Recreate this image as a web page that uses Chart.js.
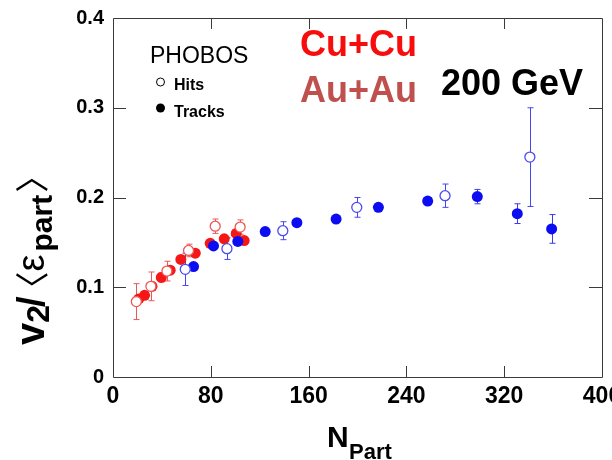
<!DOCTYPE html>
<html>
<head>
<meta charset="utf-8">
<script src="https://cdn.jsdelivr.net/npm/chart.js@4/dist/chart.umd.min.js"></script>
<style>
  html, body { margin: 0; padding: 0; background: #fff; }
  #wrap { width: 612px; height: 460px; }
</style>
</head>
<body>
<div id="wrap"><canvas id="c" width="612" height="460"></canvas></div>
<script>
// Axis ticks
const xTicks = [0, 80, 160, 240, 320, 400];
const yTicks = [0, 0.1, 0.2, 0.3, 0.4];

// Cu+Cu, hit-based (open) and track-based (filled)
const nPartCuHits = [19.1, 31.0, 44.1, 61.8, 83.6, 104.0];
const v2CuHits    = [0.084, 0.101, 0.118, 0.141, 0.168, 0.167];
const errCuHits   = [0.020, 0.016, 0.011, 0.007, 0.008, 0.008];

const nPartCuTracks = [21.0, 25.8, 31.9, 39.5, 46.8, 55.5, 67.3, 79.5, 91.0, 100.8, 107.3];
const v2CuTracks    = [0.087, 0.091, 0.101, 0.111, 0.119, 0.131, 0.138, 0.149, 0.154, 0.160, 0.152];
const errCuTracks   = [0.004, 0.004, 0.004, 0.005, 0.004, 0.004, 0.004, 0.003, 0.003, 0.003, 0.003];

// Au+Au, hit-based (open) and track-based (filled)
const nPartAuHits = [59.1, 93.2, 138.9, 199.4, 271.6, 341.0];
const v2AuHits    = [0.120, 0.143, 0.163, 0.189, 0.202, 0.245];
const errAuHits   = [0.018, 0.012, 0.010, 0.011, 0.013, 0.055];

const nPartAuTracks = [65.9, 82.2, 102.1, 124.5, 150.4, 182.5, 217.1, 257.4, 298.0, 330.7, 358.8];
const v2AuTracks    = [0.123, 0.146, 0.151, 0.162, 0.172, 0.176, 0.189, 0.196, 0.201, 0.182, 0.165];
const errAuTracks   = [0.003, 0.003, 0.003, 0.003, 0.003, 0.003, 0.003, 0.004, 0.008, 0.011, 0.016];

const FONT = '"Liberation Sans", Arial, Helvetica, sans-serif';
const BRACKET = '"Noto Sans CJK JP", "DejaVu Sans", sans-serif';

function pts(xs, ys) { return xs.map((x, i) => ({ x: x, y: ys[i] })); }

// Vertical error bars with short caps, drawn under the markers
const errorBars = {
  id: 'errorBars',
  beforeDatasetsDraw(chart) {
    const ctx = chart.ctx, xs = chart.scales.x, ys = chart.scales.y;
    ctx.save();
    chart.data.datasets.forEach(ds => {
      if (!ds.err) return;
      ctx.strokeStyle = ds.errColor;
      ctx.lineWidth = 1;
      ds.data.forEach((p, i) => {
        const e = ds.err[i];
        const px = Math.round(xs.getPixelForValue(p.x)) + 0.5;
        const yt = ys.getPixelForValue(p.y + e);
        const yb = ys.getPixelForValue(p.y - e);
        ctx.beginPath();
        ctx.moveTo(px, yt); ctx.lineTo(px, yb);
        ctx.moveTo(px - 3, yt); ctx.lineTo(px + 3, yt);
        ctx.moveTo(px - 3, yb); ctx.lineTo(px + 3, yb);
        ctx.stroke();
      });
    });
    ctx.restore();
  }
};

// Plot frame with inward ticks on all four sides, titles and labels
const frame = {
  id: 'frame',
  afterDraw(chart) {
    const ctx = chart.ctx, a = chart.chartArea;
    const xs = chart.scales.x, ys = chart.scales.y;
    const L = 11;
    ctx.save();
    ctx.strokeStyle = '#3a3a3a';
    ctx.lineWidth = 1;
    ctx.beginPath();
    ctx.rect(Math.round(a.left) + 0.5, Math.round(a.top) + 0.5,
             Math.round(a.right - a.left), Math.round(a.bottom - a.top));
    xTicks.slice(1, -1).forEach(v => {
      const p = Math.round(xs.getPixelForValue(v)) + 0.5;
      ctx.moveTo(p, a.bottom); ctx.lineTo(p, a.bottom - L);
      ctx.moveTo(p, a.top); ctx.lineTo(p, a.top + L);
    });
    yTicks.slice(1, -1).forEach(v => {
      const p = Math.round(ys.getPixelForValue(v)) + 0.5;
      ctx.moveTo(a.left, p); ctx.lineTo(a.left + 13, p);
      ctx.moveTo(a.right, p); ctx.lineTo(a.right - 13, p);
    });
    ctx.stroke();

    ctx.fillStyle = '#000';
    ctx.textBaseline = 'alphabetic';
    ctx.textAlign = 'left';

    // x-axis title
    ctx.font = 'bold 30px ' + FONT;
    ctx.fillText('N', 327, 447);
    ctx.font = 'bold 22px ' + FONT;
    ctx.fillText('Part', 349, 459);

    // y-axis title, rotated, written from bottom to top
    const parts = [
      { t: 'v',      font: 'bold 40px ' + FONT, dy: 0,  gap: 0 },
      { t: '2',      font: 'bold 32px ' + FONT, dy: 5,  gap: 0 },
      { t: '/',      font: 'bold 38px ' + FONT, dy: 0,  gap: -2 },
      { t: '\u3008', font: '34px ' + BRACKET,   dy: 1,  gap: -9 },
      { t: '\u03B5', font: '38px ' + FONT,      dy: 0,  gap: 0 },
      { t: 'part',   font: 'bold 30px ' + FONT, dy: 8,  gap: 3 },
      { t: '\u3009', font: '34px ' + BRACKET,   dy: 1,  gap: 2 }
    ];
    ctx.save();
    ctx.translate(44, 345);
    ctx.rotate(-Math.PI / 2);
    let cx = 0;
    parts.forEach(p => {
      ctx.font = p.font;
      cx += p.gap;
      ctx.fillText(p.t, cx, p.dy);
      cx += ctx.measureText(p.t).width;
    });
    ctx.restore();

    // key
    ctx.font = '23px ' + FONT;
    ctx.fillText('PHOBOS', 150, 63);
    ctx.font = 'bold 16px ' + FONT;
    ctx.fillText('Hits', 174, 90);
    ctx.fillText('Tracks', 174, 116.5);
    ctx.lineWidth = 1;
    ctx.strokeStyle = '#000';
    ctx.beginPath();
    ctx.arc(160.5, 82, 4, 0, Math.PI * 2);
    ctx.stroke();
    ctx.beginPath();
    ctx.arc(160.5, 108, 4.5, 0, Math.PI * 2);
    ctx.fill();

    ctx.font = 'bold 36px ' + FONT;
    ctx.fillStyle = '#f80d0d';
    ctx.fillText('Cu+Cu', 300, 56);
    ctx.fillStyle = '#c0504d';
    ctx.fillText('Au+Au', 300, 102);
    ctx.fillStyle = '#000';
    ctx.font = 'bold 36px ' + FONT;
    ctx.fillText('200 GeV', 441, 95);
    ctx.restore();
  }
};

const tickFont = (size) => ({ family: FONT, size: size, weight: 'bold' });

new Chart(document.getElementById('c'), {
  type: 'scatter',
  data: {
    datasets: [
      {
        label: 'Cu+Cu Hits', data: pts(nPartCuHits, v2CuHits), err: errCuHits,
        errColor: '#ec5656', pointStyle: 'circle', pointRadius: 5,
        pointBackgroundColor: '#ffffff', pointBorderColor: '#ee5555',
        pointBorderWidth: 1.3, order: 1
      },
      {
        label: 'Au+Au Hits', data: pts(nPartAuHits, v2AuHits), err: errAuHits,
        errColor: '#4646f2', pointStyle: 'circle', pointRadius: 5,
        pointBackgroundColor: '#ffffff', pointBorderColor: '#4a4af0',
        pointBorderWidth: 1.3, order: 2
      },
      {
        label: 'Au+Au Tracks', data: pts(nPartAuTracks, v2AuTracks), err: errAuTracks,
        errColor: '#3a3af2', pointStyle: 'circle', pointRadius: 5.5,
        pointBackgroundColor: '#0c0cf2', pointBorderColor: '#0c0cf2',
        pointBorderWidth: 0, order: 3
      },
      {
        label: 'Cu+Cu Tracks', data: pts(nPartCuTracks, v2CuTracks), err: errCuTracks,
        errColor: '#ec4a4a', pointStyle: 'circle', pointRadius: 5.5,
        pointBackgroundColor: '#f51616', pointBorderColor: '#f51616',
        pointBorderWidth: 0, order: 4
      }
    ]
  },
  options: {
    responsive: false,
    animation: false,
    devicePixelRatio: 1,
    layout: { padding: { left: 0, right: 10, top: 18, bottom: 0 } },
    plugins: { legend: { display: false }, tooltip: { enabled: false } },
    scales: {
      x: {
        type: 'linear', min: 0, max: 400,
        afterBuildTicks: s => { s.ticks = xTicks.map(v => ({ value: v })); },
        ticks: { font: tickFont(23), color: '#000', padding: 6, maxRotation: 0, autoSkip: false },
        grid: { display: false, drawTicks: false },
        border: { display: false },
        afterFit: s => { s.height = 83; s.paddingLeft = 0; s.paddingRight = 0; }
      },
      y: {
        type: 'linear', min: 0, max: 0.4,
        afterBuildTicks: s => { s.ticks = yTicks.map(v => ({ value: v })); },
        ticks: {
          font: tickFont(20), color: '#000', padding: 9,
          callback: v => (v === 0 ? '0' : v.toFixed(1))
        },
        grid: { display: false, drawTicks: false },
        border: { display: false },
        afterFit: s => { s.width = 113; s.paddingTop = 0; s.paddingBottom = 0; }
      }
    }
  },
  plugins: [errorBars, frame]
});
</script>
</body>
</html>
